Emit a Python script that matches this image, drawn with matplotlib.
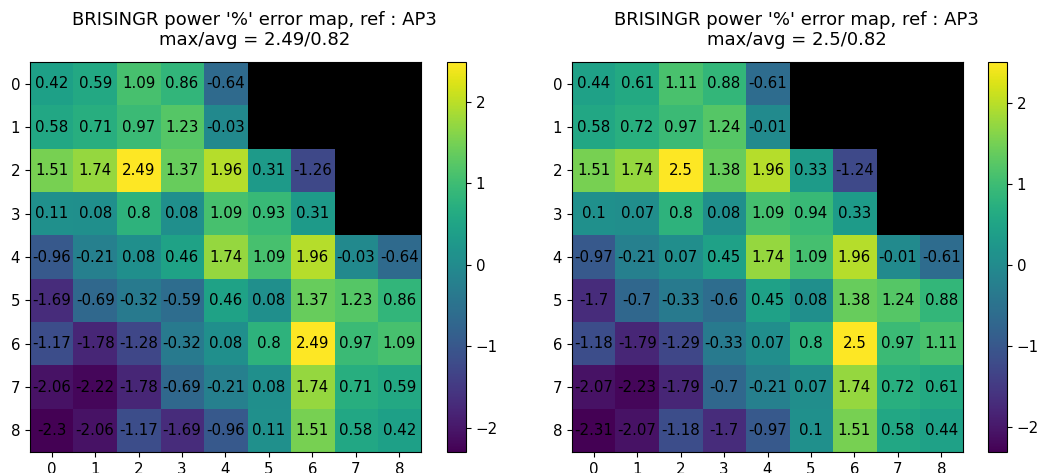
import numpy as np
import matplotlib
matplotlib.use("Agg")
import matplotlib.pyplot as plt

nan = np.nan

# error maps (row-major, nan = no assembly)
err_left = [
    [0.42, 0.59, 1.09, 0.86, -0.64, nan, nan, nan, nan],
    [0.58, 0.71, 0.97, 1.23, -0.03, nan, nan, nan, nan],
    [1.51, 1.74, 2.49, 1.37, 1.96, 0.31, -1.26, nan, nan],
    [0.11, 0.08, 0.8, 0.08, 1.09, 0.93, 0.31, nan, nan],
    [-0.96, -0.21, 0.08, 0.46, 1.74, 1.09, 1.96, -0.03, -0.64],
    [-1.69, -0.69, -0.32, -0.59, 0.46, 0.08, 1.37, 1.23, 0.86],
    [-1.17, -1.78, -1.28, -0.32, 0.08, 0.8, 2.49, 0.97, 1.09],
    [-2.06, -2.22, -1.78, -0.69, -0.21, 0.08, 1.74, 0.71, 0.59],
    [-2.3, -2.06, -1.17, -1.69, -0.96, 0.11, 1.51, 0.58, 0.42],
]
err_right = [
    [0.44, 0.61, 1.11, 0.88, -0.61, nan, nan, nan, nan],
    [0.58, 0.72, 0.97, 1.24, -0.01, nan, nan, nan, nan],
    [1.51, 1.74, 2.5, 1.38, 1.96, 0.33, -1.24, nan, nan],
    [0.1, 0.07, 0.8, 0.08, 1.09, 0.94, 0.33, nan, nan],
    [-0.97, -0.21, 0.07, 0.45, 1.74, 1.09, 1.96, -0.01, -0.61],
    [-1.7, -0.7, -0.33, -0.6, 0.45, 0.08, 1.38, 1.24, 0.88],
    [-1.18, -1.79, -1.29, -0.33, 0.07, 0.8, 2.5, 0.97, 1.11],
    [-2.07, -2.23, -1.79, -0.7, -0.21, 0.07, 1.74, 0.72, 0.61],
    [-2.31, -2.07, -1.18, -1.7, -0.97, 0.1, 1.51, 0.58, 0.44],
]
titles = [
    "BRISINGR power '%' error map, ref : AP3\nmax/avg = 2.49/0.82",
    "BRISINGR power '%' error map, ref : AP3\nmax/avg = 2.5/0.82",
]

fs = 10.8
fig = plt.figure(figsize=(10.4, 4.73), dpi=100)
panels = [
    (err_left, [0.0288, 0.0444, 0.376, 0.8245], [0.4298, 0.0444, 0.0183, 0.8245]),
    (err_right, [0.55, 0.0444, 0.376, 0.8245], [0.95, 0.0444, 0.0183, 0.8245]),
]

for (data, pos, cpos), title in zip(panels, titles):
    arr = np.array(data, dtype=float)
    ax = fig.add_axes(pos)
    cax = fig.add_axes(cpos)
    ax.set_facecolor("black")
    im = ax.imshow(np.ma.masked_invalid(arr), cmap="viridis", aspect="auto")
    n = arr.shape[0]
    ax.set_xticks(range(n))
    ax.set_yticks(range(n))
    ax.tick_params(labelsize=fs)
    for i in range(n):
        for j in range(n):
            if not np.isnan(arr[i, j]):
                ax.text(j, i, f"{round(arr[i, j], 2):g}", ha="center", va="center",
                        color="black", fontsize=fs)
    # title sits a bit right of the map centre in the reference
    ax.set_title(title, fontsize=13, pad=12, x=0.575)
    cb = fig.colorbar(im, cax=cax)
    cb.ax.tick_params(labelsize=fs)

fig.savefig("out.png", dpi=100)
